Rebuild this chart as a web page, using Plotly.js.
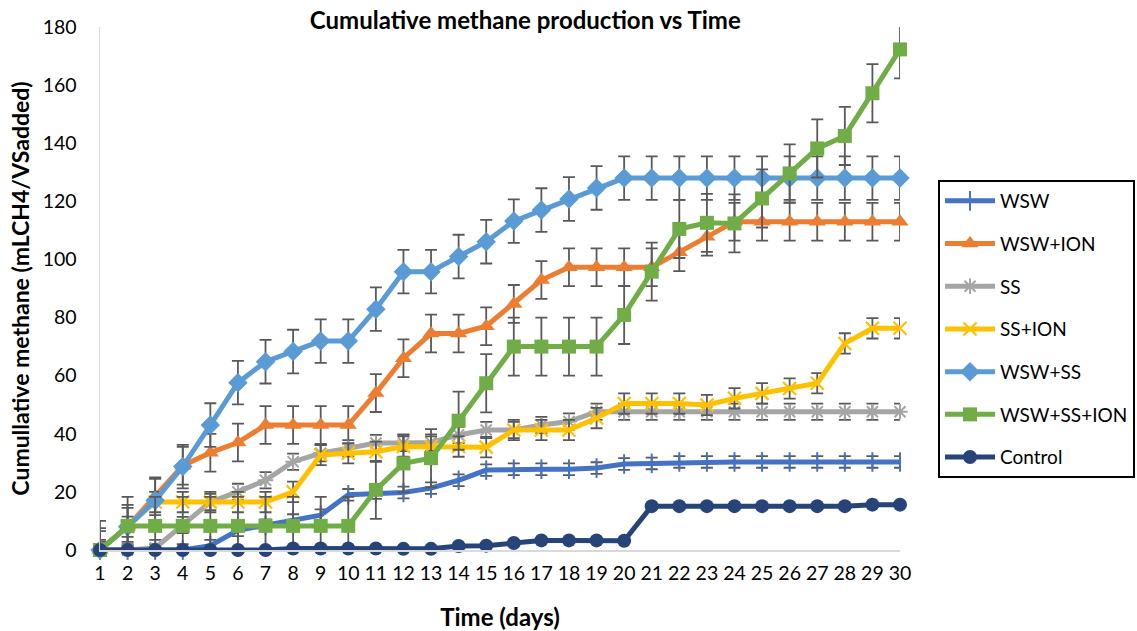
<!DOCTYPE html>
<html>
<head>
<meta charset="utf-8">
<script src="https://cdn.plot.ly/plotly-3.0.1.min.js"></script>
<style>
  html, body { margin: 0; padding: 0; background: #ffffff; }
  #chart { width: 1137px; height: 631px; }
</style>
</head>
<body>
<div id="chart"></div>
<script>
// Incubation days
const days = [1,2,3,4,5,6,7,8,9,10,11,12,13,14,15,16,17,18,19,20,21,22,23,24,25,26,27,28,29,30];

// Cumulative methane yield (mL CH4 / g VS added) per treatment
const wsw = [0,0,0,0,1.5,6.8,8.5,10.3,12,19,19.6,19.8,21.3,24,27.5,27.8,27.8,27.8,28.2,29.6,29.8,30.3,30.3,30.3,30.3,30.3,30.3,30.3,30.3,30.3];
const wswIon = [0,8,18.5,29,33.5,37,43,43,43,43,54,66,74.5,74.5,77,84.7,92.9,97.3,97.3,97.3,97.3,102.5,107.8,113,113,113,113,113,113,113];
const ss = [0,0,0.7,8.6,16.5,20,24,30.4,33.3,35,36.8,36.8,37,39.6,41.3,41.3,43,44.2,47.6,47.6,47.6,47.6,47.6,47.6,47.6,47.6,47.6,47.6,47.6,47.6];
const ssIon = [0,8,16.5,16.5,16.5,16.5,16.5,20,32.7,33.3,33.8,35.6,35.6,35.6,35.4,41.3,41.3,41.3,45.4,50.4,50.4,50.4,49.9,52.2,53.9,55.6,57.4,71.1,76.3,76.3];
const wswSs = [0,8,17,28.7,43,57.6,64.8,68.3,71.9,71.9,82.9,95.8,95.8,101,106.1,113.2,117,120.8,124.6,128,128,128,128,128,128,128,128,128,128,128];
const wswSsIon = [0,8.3,8.3,8.3,8.3,8.3,8.3,8.3,8.3,8.3,20.7,29.8,31.6,44.5,57.4,70,70,70,70,80.9,95.8,110.5,112.6,112.4,121,129.6,138.2,142.5,157.2,172.3];
const control = [0,0,0,0,0,0,0,0.5,0.5,0.5,0.5,0.4,0.4,1.4,1.5,2.4,3.3,3.3,3.3,3.2,15.1,15.1,15.1,15.1,15.1,15.1,15.1,15.1,15.6,15.6];

// Error bar half-widths (same units as the yields)
const errWsw = 2;
const errWswIon = 6.5;
const errSs = 2.8;
const errSsIon = 3.5;
const errWswSs = 7.5;
const errWswSsIon = 10;

const seriesNames = ['WSW','WSW+ION','SS','SS+ION','WSW+SS','WSW+SS+ION','Control'];
const seriesColors = ['#4472C4','#ED7D31','#A5A5A5','#FFC000','#5B9BD5','#70AD47','#264478'];

const FONT = 'Lato, "Open Sans", sans-serif';

function errBar(v) {
  if (v === null) return { visible: false };
  return { type: 'constant', value: v, visible: true, color: '#595959', thickness: 1.8, width: 6 };
}

function series(i, y, err, symbol, size, extra) {
  const c = seriesColors[i];
  const marker = Object.assign({ symbol: symbol, size: size, color: c, line: { width: 0, color: c } }, extra || {});
  return {
    x: days, y: y, name: seriesNames[i], type: 'scatter', mode: 'lines+markers',
    line: { color: c, width: 5 },
    marker: marker,
    error_y: errBar(err),
    legendgroup: 'g' + i,
    cliponaxis: false
  };
}

const traces = [
  series(0, wsw, errWsw, 'line-ns', 14, { line: { width: 2, color: seriesColors[0] } }),
  series(1, wswIon, errWswIon, 'triangle-up', 15),
  series(2, ss, errSs, 'asterisk', 13, { line: { width: 2, color: seriesColors[2] } }),
  series(3, ssIon, errSsIon, 'x-thin', 13, { line: { width: 2.2, color: seriesColors[3] } }),
  series(4, wswSs, errWswSs, 'diamond', 15),
  series(5, wswSsIon, errWswSsIon, 'square', 14),
  series(6, control, null, 'circle', 14)
];

const layout = {
  width: 1137, height: 631,
  paper_bgcolor: '#ffffff', plot_bgcolor: '#ffffff',
  margin: { l: 100, r: 237, t: 27, b: 81, autoexpand: false },
  font: { family: FONT, color: '#000000', size: 20 },
  title: {
    text: '<b>Cumulative methane production vs Time</b>',
    font: { family: FONT, size: 24, color: '#000000' },
    xref: 'container', x: 0.462, xanchor: 'center',
    yref: 'container', y: 0.968, yanchor: 'middle'
  },
  xaxis: {
    range: [1, 30], tickmode: 'array', tickvals: days, ticktext: days.map(String),
    showgrid: false, zeroline: false, showline: true, linecolor: '#d9d9d9', linewidth: 1.5,
    ticks: '', tickfont: { family: FONT, size: 19.5, color: '#000000' },
    ticklabelstandoff: 5, automargin: false,
    title: { text: '<b>Time (days)</b>', font: { family: FONT, size: 24, color: '#000000' }, standoff: 27 }
  },
  yaxis: {
    range: [0, 180], tickmode: 'array', tickvals: [0,20,40,60,80,100,120,140,160,180],
    showgrid: false, zeroline: false, showline: true, linecolor: '#d9d9d9', linewidth: 1.5,
    ticks: '', tickfont: { family: FONT, size: 19.5, color: '#000000' },
    ticklabelstandoff: 18, automargin: false,
    title: { text: '<b>Cumullative methane (mLCH4/VSadded)</b>', font: { family: FONT, size: 23, color: '#000000' }, standoff: 6 }
  },
  showlegend: true,
  legend: {
    xref: 'container', yref: 'container',
    x: 0.825, xanchor: 'left', y: 0.7147, yanchor: 'top',
    bgcolor: '#ffffff', bordercolor: '#000000', borderwidth: 2,
    font: { family: FONT, size: 19, color: '#000000' },
    traceorder: 'grouped', tracegroupgap: 15,
    itemwidth: 50
  }
};

Plotly.newPlot('chart', traces, layout, { displayModeBar: false, staticPlot: true });
</script>
</body>
</html>
